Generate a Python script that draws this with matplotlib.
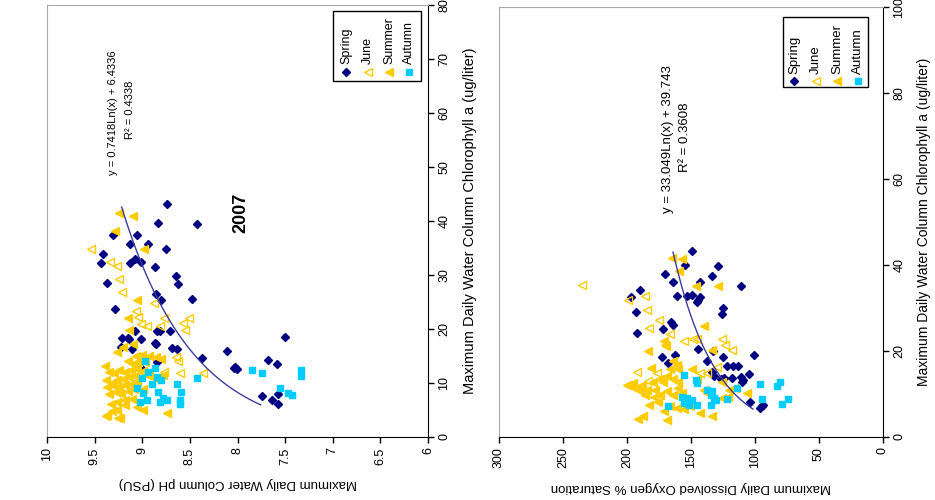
import numpy as np
import matplotlib
matplotlib.use("Agg")
import matplotlib.pyplot as plt
from matplotlib.patches import Rectangle
from matplotlib.lines import Line2D

plt.rcParams['font.family'] = ['Liberation Sans', 'DejaVu Sans']

# ---------------- data: left panel (pH vs chlorophyll) ----------------
spring_ph = [8.74, 8.83, 8.43, 9.31, 9.05, 9.13, 8.94, 9.41, 8.75, 9.43, 9.13, 9.08, 9.01, 8.87,
             8.65, 8.62, 9.37, 8.86, 8.80, 8.48, 9.29, 9.08, 8.84, 8.71, 9.21, 9.14, 9.01, 8.86,
             7.50, 9.11, 8.69, 8.63, 8.11, 8.37, 7.68, 7.59, 8.03, 8.01, 8.04, 9.01, 7.74, 7.64,
             7.57, 7.57, 9.15, 9.22, 8.81, 8.87, 8.84]
spring_chl = [43.1, 39.7, 39.4, 37.5, 37.4, 35.7, 35.7, 33.8, 34.8, 32.2, 32.2, 32.9, 32.5, 31.5,
              29.8, 28.3, 28.6, 26.4, 25.4, 25.6, 23.7, 19.6, 19.6, 19.7, 18.4, 18.1, 18.1, 17.3,
              18.6, 16.3, 16.5, 16.3, 15.9, 14.6, 14.3, 13.5, 13.0, 12.6, 12.8, 12.8, 7.6, 6.8,
              7.9, 6.2, 18.3, 16.7, 19.6, 17.5, 13.9]

june_ph = [9.54, 9.34, 9.27, 9.24, 9.21, 8.88, 9.07, 9.04, 8.77, 8.57, 8.51, 8.55, 9.01, 8.95,
           8.81, 8.65, 8.62, 8.60, 8.36, 8.77]
june_chl = [34.9, 32.5, 31.7, 29.2, 26.9, 24.9, 23.4, 22.3, 22.0, 21.2, 22.1, 19.8, 20.9, 20.6,
            20.6, 14.8, 14.1, 11.9, 11.8, 12.1]

summer_ph = [9.24, 9.10, 9.29, 8.98, 9.05, 9.15, 9.14, 9.10, 9.20, 9.27, 9.39,
             9.07, 9.00, 8.93, 8.86, 8.80,
             9.15, 9.10, 9.04, 8.97,
             9.35, 9.30, 9.24, 9.18, 9.12, 9.05, 8.99, 8.93,
             9.38, 9.32, 9.26, 9.20, 9.14, 9.08, 9.02, 8.95, 8.88, 8.78,
             9.37, 9.30, 9.24, 9.18, 9.12, 9.06,
             9.35, 9.28, 9.22, 9.15, 9.09,
             9.33, 9.26, 9.18, 9.11, 9.06, 8.99, 9.27, 9.32, 9.38, 9.25, 9.18,
             8.74, 9.23, 9.37, 8.99]
summer_chl = [41.4, 41.0, 38.2, 34.8, 25.4, 22.0, 19.9, 17.3, 16.7, 15.8, 13.1,
              15.0, 15.2, 15.0, 14.8, 14.5,
              14.0, 13.6, 13.8, 13.9,
              12.0, 11.8, 12.4, 12.0, 12.5, 12.6, 12.2, 11.8,
              10.6, 10.0, 10.6, 10.8, 11.2, 11.3, 11.2, 11.4, 11.0, 11.4,
              9.2, 9.4, 9.2, 9.6, 9.9, 10.1,
              8.0, 8.3, 7.9, 8.6, 8.8,
              6.2, 6.5, 6.8, 7.1, 5.6, 5.0, 5.0, 4.8, 3.8, 3.6, 6.0,
              4.5, 3.5, 4.1, 8.9]

autumn_ph = [8.97, 8.87, 8.94, 8.80, 8.90, 9.06, 8.99, 8.83, 8.95, 9.02, 8.81, 8.74, 8.63, 8.59,
             8.60, 8.60, 8.42, 7.85, 7.74, 7.55, 7.47, 7.43, 7.33, 7.33, 8.78, 8.85, 9.00]
autumn_chl = [14.1, 12.7, 12.1, 10.6, 9.8, 9.1, 8.1, 8.4, 6.9, 6.5, 6.5, 6.9, 9.8, 8.4,
              6.9, 6.2, 10.9, 12.4, 11.8, 9.1, 8.2, 7.8, 12.4, 11.3, 7.2, 11.2, 11.0]

# ---------------- data: right panel (DO % saturation vs chlorophyll) ----------------
spring_do = [149.5, 154.7, 128.7, 170.3, 164.1, 133.8, 143.0, 110.9, 189.8, 197.1, 161.2, 153.4,
             149.5, 143.0, 144.3, 145.6, 124.7, 126.0, 193.0, 165.4, 164.1, 191.9, 172.1, 144.3,
             132.6, 172.7, 162.3, 137.8, 125.3, 100.5, 167.6, 122.1, 117.4, 113.0, 133.7, 132.4,
             104.4, 126.4, 124.3, 117.7, 111.2, 109.1, 109.9, 103.6, 96.1, 94.8, 93.5]
spring_chl2 = [43.3, 40.0, 39.8, 37.8, 36.0, 37.5, 36.0, 35.1, 34.2, 32.5, 32.9, 32.7,
               33.1, 32.5, 31.9, 31.5, 30.1, 28.5, 29.0, 26.8, 26.1, 24.1, 25.2, 20.5,
               20.0, 18.6, 19.0, 17.7, 18.6, 19.1, 17.1, 16.6, 16.6, 16.5, 15.1, 14.2,
               14.6, 13.6, 13.7, 13.8, 13.9, 13.2, 12.8, 8.2, 6.7, 7.1, 7.5]

june_do = [234.9, 199.0, 186.0, 184.2, 174.9, 182.6, 166.4, 169.8, 155.5, 148.2, 145.6, 126.0,
           123.4, 118.2, 191.9, 183.3, 176.8, 143.0, 137.8, 130.0]
june_chl2 = [35.3, 31.9, 32.8, 29.6, 27.3, 25.3, 24.0, 21.2, 22.3, 22.7, 22.7, 22.7,
             21.5, 20.2, 15.2, 13.0, 14.9, 15.0, 14.8, 16.2]

summer_do = [165.1, 157.3, 159.2, 146.2, 129.2, 140.2, 170.8, 170.2, 183.3, 133.7, 181.5, 163.8,
             161.2, 159.9, 166.4, 174.2, 169.0, 163.8, 159.9, 196.2, 191.8, 187.9, 184.0, 179.4,
             178.1, 174.2, 169.0, 163.8, 166.4, 161.2, 155.5, 150.8, 143.0, 133.7, 126.0, 120.8,
             106.5, 115.4, 120.6, 125.8, 191.5, 187.4, 169.0, 140.2, 137.6, 149.5, 145.6,
             200.2, 195.0, 189.8, 186.0, 178.8, 171.5, 160.0, 157.0, 176.0, 183.0, 171.0]
summer_chl2 = [41.7, 41.3, 38.6, 35.1, 35.1, 25.7, 22.3, 21.5, 20.0, 20.2, 16.0, 17.6,
               16.8, 15.7, 15.7, 13.6, 14.3, 13.6, 12.9, 11.7, 11.3, 12.1, 10.9, 12.9,
               10.9, 9.8, 10.6, 9.8, 7.1, 6.7, 6.4, 7.1, 5.5, 5.0, 9.0, 9.3,
               10.3, 11.4, 11.0, 12.7, 4.3, 5.0, 3.9, 11.0, 10.2, 15.7, 13.6,
               12.1, 12.6, 10.8, 9.7, 9.4, 12.9, 11.5, 10.2, 8.2, 7.5, 6.0]

autumn_do = [155.5, 146.4, 145.1, 137.2, 133.3, 134.6, 132.0, 130.7, 156.8, 152.9, 149.0, 145.1,
             151.6, 155.5, 167.7, 134.6, 122.1, 114.3, 96.1, 94.8, 83.1, 80.5, 79.2, 74.0]
autumn_chl2 = [14.4, 13.3, 12.5, 11.0, 10.6, 9.8, 9.0, 8.6, 9.4, 9.0, 8.6, 7.4,
               7.4, 7.8, 7.1, 7.4, 8.8, 11.4, 12.3, 8.9, 11.9, 12.7, 7.6, 8.9]

# trend lines (log fits shown on chart)
fit1_a, fit1_b = 0.7418, 6.4336
fit2_a, fit2_b = 33.049, 39.743
fit1_range = (5.95, 42.6)
fit2_range = (6.5, 43.0)

ph_ticks = [10, 9.5, 9, 8.5, 8, 7.5, 7, 6.5, 6]
chl1_ticks = [0, 10, 20, 30, 40, 50, 60, 70, 80]
do_ticks = [300, 250, 200, 150, 100, 50, 0]
chl2_ticks = [0, 20, 40, 60, 80, 100]
season_names = ['Spring', 'June', 'Summer', 'Autumn']

NAVY = '#000080'
GOLD = '#FFCC00'
CYAN = '#00CCFF'
LINE = '#3c3c9c'

W, H = 935, 500
fig = plt.figure(figsize=(W / 100, H / 100), dpi=100)


def px(x, y):
    return x / W, 1 - y / H


def style_axes(ax):
    for s in ['left', 'top']:
        ax.spines[s].set_color('#a8a8a8')
    for s in ['bottom', 'right']:
        ax.spines[s].set_color('black')
    ax.yaxis.tick_right()
    ax.yaxis.set_label_position('right')
    ax.tick_params(direction='out', length=4, width=1, labelsize=9)
    ax.tick_params(axis='x', labelrotation=90)
    ax.tick_params(axis='y', labelrotation=90)
    for lab in ax.get_yticklabels():
        lab.set_va('center')


def series(ax, xs, ys, kind):
    if kind == 'Spring':
        ax.plot(xs, ys, ls='none', marker='D', ms=4.2, mfc=NAVY, mec=NAVY)
    elif kind == 'June':
        ax.plot(xs, ys, ls='none', marker='<', ms=5.5, mfc='none', mec=GOLD, mew=1.0)
    elif kind == 'Summer':
        ax.plot(xs, ys, ls='none', marker='<', ms=5.5, mfc=GOLD, mec=GOLD)
    else:
        ax.plot(xs, ys, ls='none', marker='s', ms=4.5, mfc=CYAN, mec=CYAN)


def legend(x0, y0, x1, y1, mx, my, fs):
    fx0, fy1 = px(x0, y0)
    fx1, fy0 = px(x1, y1)
    fig.add_artist(Rectangle((fx0, fy0), fx1 - fx0, fy1 - fy0, transform=fig.transFigure,
                             fill=True, fc='white', ec='black', lw=1, zorder=5))
    for name, x in zip(season_names, mx):
        fxm, fym = px(x, my)
        if name == 'Spring':
            kw = dict(marker='D', ms=4.2, mfc=NAVY, mec=NAVY)
        elif name == 'June':
            kw = dict(marker='<', ms=5.5, mfc='none', mec=GOLD, mew=1.0)
        elif name == 'Summer':
            kw = dict(marker='<', ms=5.5, mfc=GOLD, mec=GOLD)
        else:
            kw = dict(marker='s', ms=4.5, mfc=CYAN, mec=CYAN)
        fig.add_artist(Line2D([fxm], [fym], ls='none', transform=fig.transFigure, zorder=6, **kw))
        ftx, fty = px(x, my - 7)
        fig.text(ftx, fty, name, rotation=90, ha='center', va='bottom', fontsize=fs, zorder=6)


# ---------------- left panel ----------------
ax1 = fig.add_axes([47 / W, 1 - 437 / H, (428 - 47) / W, (437 - 5) / H])
series(ax1, spring_ph, spring_chl, 'Spring')
series(ax1, june_ph, june_chl, 'June')
series(ax1, summer_ph, summer_chl, 'Summer')
series(ax1, autumn_ph, autumn_chl, 'Autumn')
c1 = np.linspace(fit1_range[0], fit1_range[1], 200)
ax1.plot(fit1_a * np.log(c1) + fit1_b, c1, color=LINE, lw=1)
ax1.set_xlim(10, 6)
ax1.set_ylim(0, 80)
ax1.set_xticks(ph_ticks, [f"{v:g}" for v in ph_ticks])
ax1.set_yticks(chl1_ticks, [str(v) for v in chl1_ticks])
style_axes(ax1)
ax1.set_xlabel('Maximum Daily Water Column pH (PSU)', rotation=180, fontsize=9.5, labelpad=9)
ax1.set_ylabel('Maximum Daily Water Column Chlorophyll a (ug/liter)', fontsize=10.5, labelpad=9)
ax1.text(9.307, 60, 'y = 0.7418Ln(x) + 6.4336', rotation=90, ha='center', va='center', fontsize=8)
ax1.text(9.13, 60.5, 'R² = 0.4338', rotation=90, ha='center', va='center', fontsize=8)

# ---------------- right panel ----------------
ax2 = fig.add_axes([499 / W, 1 - 437 / H, (883 - 499) / W, (437 - 7) / H])
series(ax2, spring_do, spring_chl2, 'Spring')
series(ax2, june_do, june_chl2, 'June')
series(ax2, summer_do, summer_chl2, 'Summer')
series(ax2, autumn_do, autumn_chl2, 'Autumn')
c2 = np.linspace(fit2_range[0], fit2_range[1], 200)
ax2.plot(fit2_a * np.log(c2) + fit2_b, c2, color=LINE, lw=1)
ax2.set_xlim(300, 0)
ax2.set_ylim(0, 100)
ax2.set_xticks(do_ticks, [str(v) for v in do_ticks])
ax2.set_yticks(chl2_ticks, [str(v) for v in chl2_ticks])
style_axes(ax2)
ax2.set_xlabel('Maximum Daily Dissolved Oxygen % Saturation', rotation=180, fontsize=9.5, labelpad=9)
ax2.set_ylabel('Maximum Daily Water Column Chlorophyll a (ug/liter)', fontsize=10, labelpad=8)
ax2.text(168, 69.3, 'y = 33.049Ln(x) + 39.743', rotation=90, ha='center', va='center', fontsize=9.5)
ax2.text(154.7, 69.7, 'R² = 0.3608', rotation=90, ha='center', va='center', fontsize=9.5)

# legends (rotated, drawn manually)
legend(333, 11, 421, 81, [346, 368, 389, 409], 71.5, 9)
legend(783, 17, 868, 87, [794, 816, 837, 858], 80.5, 9.5)

# title
tx, ty = px(241, 213)
fig.text(tx, ty, '2007', rotation=90, ha='center', va='center', fontsize=13, fontweight='bold')

fig.savefig('out.png', dpi=100)
